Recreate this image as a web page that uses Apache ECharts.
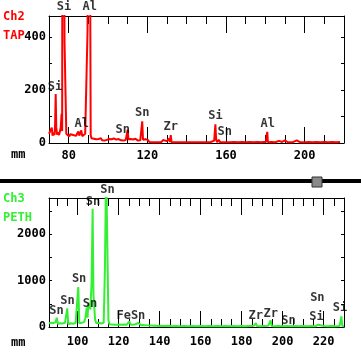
<!DOCTYPE html>
<html><head><meta charset="utf-8">
<script src="https://cdn.jsdelivr.net/npm/echarts@6/dist/echarts.min.js"></script>
<style>html,body{margin:0;padding:0;background:#fff}#c{width:361px;height:355px}</style>
</head><body><div id="c"></div><script>
// ---------- Ch2 / TAP (red) ----------
const ch2X = [70,70.5,71,71.4,71.8,72.3,72.8,73.1,73.4,73.7,74.1,74.6,75.1,75.6,76.0,76.4,76.7,76.9,77.4,77.9,78.4,78.8,
  79.3,79.8,80.3,80.8,81.3,81.8,82.3,82.8,83.3,83.8,84.3,84.9,85.4,85.9,86.4,86.9,87.4,87.9,88.4,88.9,89.3,89.6,90.0,90.3,90.9,91.2,91.6,
  92.2,92.8,93.4,94.0,94.6,95.2,95.8,96.4,97.0,97.6,98.2,98.8,99.4,100.0,100.6,101.2,101.8,102.4,103.0,103.6,104.2,104.8,105.4,106.0,106.6,
  107.2,107.8,108.4,109.0,109.6,110.0,110.4,111.0,111.6,112.2,112.8,113.4,114.0,114.6,115.2,115.8,116.4,117.0,117.4,117.8,118.4,119.0,119.6,120.2,
  121,122,123,124,125,126,127,128,129,130,131,131.5,131.9,132.3,133,134,135,136,137,138,139,140,141,142,143,144,145,146,147,148,149,150,151,152,153,
  154,154.6,155.0,155.5,156.3,157,158,160,162,164,166,168,170,172,174,176,178,180.4,180.7,181.0,181.3,181.6,183,185,187,188,188.5,190,191.4,192,194,196,
  197.6,198.2,200,202,204,206,208,210,212,214,216,218,220];
const ch2Y = [35,42,30,58,28,38,30,70,185,60,32,40,30,45,62,110,45,2000,2000,383,383,35,
  28,38,25,33,28,36,30,24,32,27,35,44,28,30,48,26,30,22,35,28,30,425,425,2000,2000,30,18,
  12,16,10,14,9,15,11,18,10,13,9,16,12,10,15,9,14,11,17,10,13,9,15,12,10,
  16,9,14,11,18,50,14,10,15,9,13,10,16,11,9,14,10,15,82,12,9,14,10,12,
  4,7,3,9,3,6,3,11,4,7,17,4,30,3,8,3,5,3,7,3,5,3,6,3,8,3,6,3,9,3,7,3,5,3,7,
  9,71,12,3,12,3,5,3,3,4,3,4,3,4,3,4,3,5,30,42,3,3,4,3,8,3,4,10,3,4,3,
  10,3,4,3,4,3,4,3,4,3,4,3,4];
const ch2LabelText = ['Si','Al','Si','Al','Sn','Sn','Zr','Si','Sn','Al'];
const ch2LabelX = [77.6,90.7,73.1,86.6,107.5,117.4,131.9,154.6,159.4,181.2];
const ch2LabelY = [514,514,214,73,48,114,61,104,42,72];
const ch2XLabels = [80,120,160,200];
const ch2XShortTicks = [80,90,100,110,120,130,140,150,160,170,180,190,200,210];
const ch2XLongTicks = [80,120,160,200];
const ch2YLabels = [0,200,400];
const ch2YTicks = [100,200,300,400];

// ---------- Ch3 / PETH (green) ----------
const ch3X = [86,86.5,87,87.5,88,88.5,89.2,89.8,90.3,91,91.5,92,92.6,93.2,93.8,94.4,94.9,95.4,96,96.6,97.2,97.8,98.4,99.0,99.6,100.3,100.8,
  101.4,102,102.6,103.2,103.8,104.4,104.8,105.2,105.7,106.2,106.8,107.3,107.7,108.1,108.5,109.1,109.7,110.3,110.9,111.5,112.1,112.7,113.3,113.9,114.6,115.0,
  115.5,116.1,116.7,117.3,117.9,118.5,119.1,119.7,120.3,120.9,121.5,122.1,122.7,123.3,123.9,124.5,125.2,125.8,126.4,127,127.6,128.2,128.8,129.6,130.2,
  131,132,133,134,135,136,137,138,139,140,142,144,146,148,150,152,154,156,158,160,162,164,166,168,170,172,174,176,178,180,182,184,186,187.0,187.5,
  189,191,193,194.2,194.7,196,198,200,202,204,206,208,210,212,214,216,217.4,218,220,222,224,226,227.8,228.3,228.7,229.2,230];
const ch3Y = [80,60,90,55,85,70,100,200,70,55,80,50,75,55,90,60,400,60,50,80,55,70,50,90,450,860,80,
  60,90,70,110,200,420,200,460,516,380,980,2550,700,690,160,80,60,90,55,75,60,90,1260,3500,3500,150,
  60,80,55,70,50,65,50,70,55,60,50,65,55,60,50,70,120,55,60,50,55,60,50,86,45,
  40,45,35,40,30,35,25,30,20,25,20,25,15,20,15,20,15,20,15,20,15,20,15,20,15,20,15,20,15,20,15,20,25,86,20,
  15,20,25,142,20,15,20,15,20,15,20,15,20,15,20,15,50,15,20,15,20,15,20,120,228,20,15];
const ch3LabelText = ['Sn','Sn','Sn','Sn','Sn','Sn','Fe','Sn','Zr','Zr','Sn','Sn','Si','Si'];
const ch3LabelX = [114.6,107.5,100.7,95.0,89.6,106.0,122.5,129.5,186.9,194.2,202.9,217.0,216.6,228.0];
const ch3LabelY = [2949,2700,1032,565,357,494,243,243,250,286,142,636,228,408];
const ch3XLabels = [100,120,140,160,180,200,220];
const ch3XShortTicks = [90,95,100,105,110,115,120,125,130,135,140,145,150,155,160,165,170,175,180,185,190,195,200,205,210,215,220,225];
const ch3XLongTicks = [100,120,140,160,180,200,220];
const ch3YLabels = [0,1000,2000];
const ch3YTicks = [500,1000,1500,2000,2500];

const FONT = 'DejaVu Sans Mono';
const txt = {fontFamily: FONT, fontWeight: 'bold', fontSize: 12, color: '#000'};
const BLK = {color: '#000', width: 1};
const plain = v => String(v);

function zip(a, b) { return a.map((v, i) => [v, b[i]]); }

function xAxesFor(grid, min, max, labels, shortT, longT, margin) {
  const base = {type: 'value', gridIndex: grid, min: min, max: max, splitLine: {show: false}};
  return [
    Object.assign({}, base, {position: 'bottom', axisLine: {show: true, onZero: false, lineStyle: BLK},
      axisTick: {show: true, inside: true, length: 8, lineStyle: BLK, customValues: shortT},
      axisLabel: Object.assign({show: true, margin: margin, customValues: labels, formatter: plain}, txt)}),
    Object.assign({}, base, {position: 'bottom', axisLine: {show: false, onZero: false},
      axisTick: {show: true, inside: true, length: 16, lineStyle: BLK, customValues: longT},
      axisLabel: {show: false}}),
    Object.assign({}, base, {position: 'top', axisLine: {show: true, onZero: false, lineStyle: BLK},
      axisTick: {show: true, inside: true, length: 8, lineStyle: BLK, customValues: shortT},
      axisLabel: {show: false}}),
    Object.assign({}, base, {position: 'top', axisLine: {show: false, onZero: false},
      axisTick: {show: true, inside: true, length: 17, lineStyle: BLK, customValues: longT},
      axisLabel: {show: false}})
  ];
}
function yAxesFor(grid, min, max, labels, ticks) {
  const base = {type: 'value', gridIndex: grid, min: min, max: max, splitLine: {show: false}};
  return [
    Object.assign({}, base, {position: 'left', axisLine: {show: true, onZero: false, lineStyle: BLK},
      axisTick: {show: true, inside: true, length: 3, lineStyle: BLK, customValues: ticks},
      axisLabel: Object.assign({show: true, margin: 3, customValues: labels, formatter: plain}, txt)}),
    Object.assign({}, base, {position: 'right', axisLine: {show: true, onZero: false, lineStyle: BLK},
      axisTick: {show: true, inside: true, length: 3, lineStyle: BLK, customValues: ticks},
      axisLabel: {show: false}})
  ];
}

function labelSeries(xi, yi, xs, ys, names) {
  return {type: 'scatter', xAxisIndex: xi, yAxisIndex: yi, symbolSize: 0, clip: false, silent: true, z: 5,
    data: xs.map((x, i) => ({name: names[i], value: [x, ys[i]]})),
    label: Object.assign({show: true, position: 'inside', formatter: '{b}'}, txt)};
}

const RED = '#ff0000', GREEN = '#33f033';
const chart = echarts.init(document.getElementById('c'), null, {renderer: 'canvas'});
chart.setOption({
  animation: false,
  backgroundColor: '#fff',
  grid: [
    {left: 49, right: 17, top: 16, height: 127},
    {left: 49, right: 17, top: 198, height: 129}
  ],
  xAxis: xAxesFor(0, 70, 220, ch2XLabels, ch2XShortTicks, ch2XLongTicks, 7)
    .concat(xAxesFor(1, 86, 230, ch3XLabels, ch3XShortTicks, ch3XLongTicks, 9)),
  yAxis: yAxesFor(0, 0, 480, ch2YLabels, ch2YTicks)
    .concat(yAxesFor(1, 0, 2780, ch3YLabels, ch3YTicks)),
  graphic: [
    {type: 'rect', shape: {x: 0, y: 179, width: 361, height: 4}, style: {fill: '#000'}},
    {type: 'rect', shape: {x: 312, y: 177, width: 10, height: 10}, style: {fill: '#8a8a8a', stroke: '#333', lineWidth: 1}},
    {type: 'text', left: 3, top: 11, style: {text: 'Ch2', fill: RED, font: 'bold 12px ' + FONT}},
    {type: 'text', left: 3, top: 30, style: {text: 'TAP', fill: RED, font: 'bold 12px ' + FONT}},
    {type: 'text', left: 11, top: 149, style: {text: 'mm', fill: '#000', font: 'bold 12px ' + FONT}},
    {type: 'text', left: 3, top: 193, style: {text: 'Ch3', fill: GREEN, font: 'bold 12px ' + FONT}},
    {type: 'text', left: 3, top: 212, style: {text: 'PETH', fill: GREEN, font: 'bold 12px ' + FONT}},
    {type: 'text', left: 11, top: 337, style: {text: 'mm', fill: '#000', font: 'bold 12px ' + FONT}}
  ],
  series: [
    {type: 'line', xAxisIndex: 0, yAxisIndex: 0, data: zip(ch2X, ch2Y), showSymbol: false, symbol: 'none',
      lineStyle: {color: RED, width: 2}, clip: true, z: 3},
    labelSeries(0, 0, ch2LabelX, ch2LabelY, ch2LabelText),
    {type: 'line', xAxisIndex: 4, yAxisIndex: 2, data: zip(ch3X, ch3Y), showSymbol: false, symbol: 'none',
      lineStyle: {color: GREEN, width: 2}, clip: true, z: 3},
    labelSeries(4, 2, ch3LabelX, ch3LabelY, ch3LabelText)
  ]
});
</script></body></html>
